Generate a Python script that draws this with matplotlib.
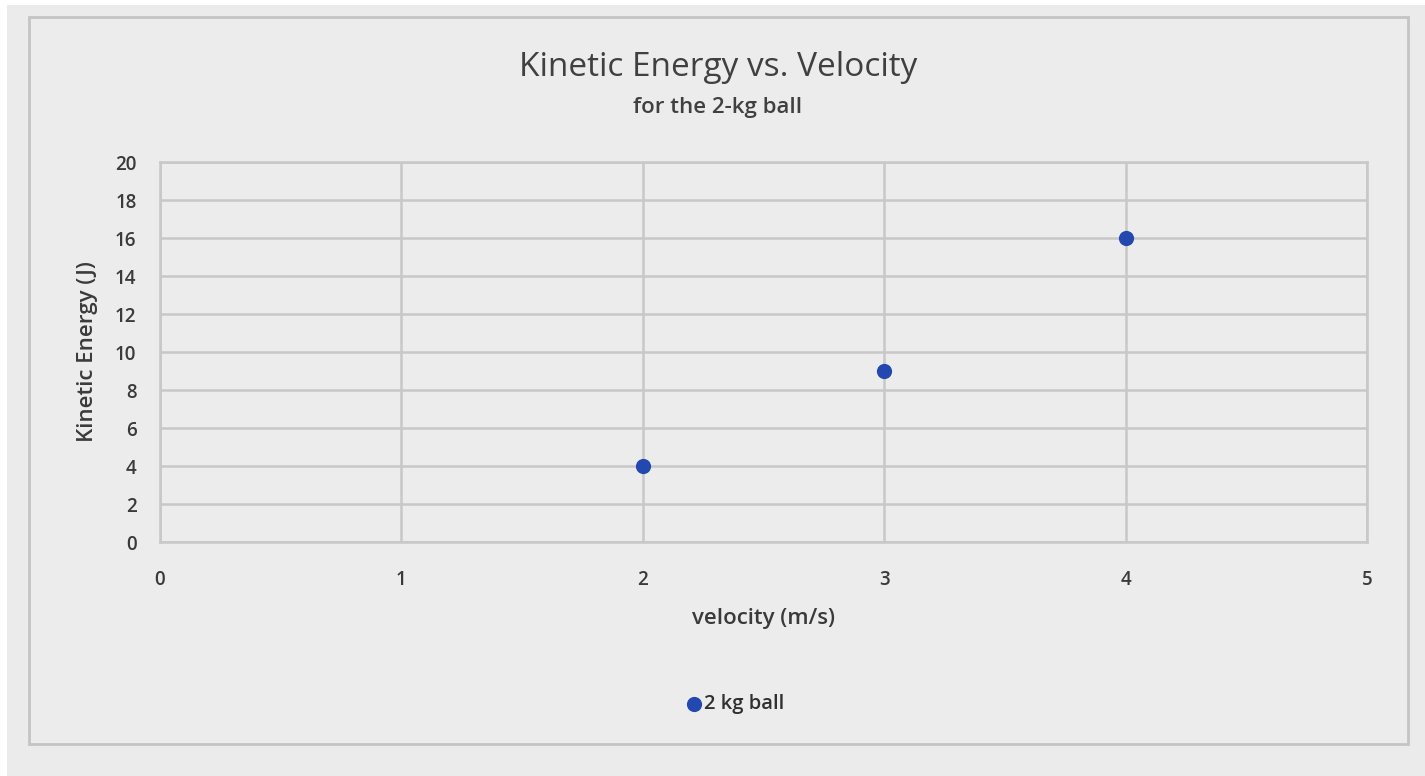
import matplotlib
matplotlib.use("Agg")
import matplotlib.pyplot as plt
from matplotlib.patches import Rectangle

velocity = [2, 3, 4]
energy = [4, 9, 16]
series_name = "2 kg ball"
x_ticks = [0, 1, 2, 3, 4, 5]
y_ticks = list(range(0, 21, 2))

plt.rcParams['font.family'] = ['Open Sans', 'DejaVu Sans']

W, H = 1425, 776
fig = plt.figure(figsize=(W/100, H/100), dpi=100)
fig.patch.set_facecolor('white')
bg = '#ebebeb'
fig.patches.append(Rectangle((7/W, 0), 1 - 7/W, 1 - 5/H, transform=fig.transFigure,
                             facecolor=bg, edgecolor='none', zorder=-2))
fig.patches.append(Rectangle((29/W, 1 - 744/H), (1408-29)/W, (744-17)/H, transform=fig.transFigure,
                             facecolor='#ececec', edgecolor='#c4c4c4', linewidth=2.0, zorder=-1))

left, right = 160/W, 1367/W
top, bottom = 1 - 162/H, 1 - 542/H
ax = fig.add_axes([left, bottom, right-left, top-bottom])
ax.set_facecolor('none')
color = '#2348b0'
ax.scatter(velocity, energy, s=120, color=color, zorder=3, label=series_name, linewidths=0)
ax.set_xlim(0, 5)
ax.set_ylim(0, 20)
ax.set_xticks(x_ticks)
ax.set_yticks(y_ticks)
ax.grid(True, color='#c8c8c8', linewidth=1.8)
ax.set_axisbelow(True)
for s in ax.spines.values():
    s.set_color('#c8c8c8')
    s.set_linewidth(1.8)
ax.tick_params(length=0, labelsize=13.5, colors='#3a3a3a')
ax.tick_params(axis='x', pad=20)
ax.tick_params(axis='y', pad=17)
for lab in ax.get_xticklabels() + ax.get_yticklabels():
    lab.set_fontweight('semibold')
ax.set_xlabel('velocity (m/s)', fontsize=16, color='#3a3a3a', labelpad=13, fontweight='semibold')
ax.set_ylabel('Kinetic Energy (J)', fontsize=16, color='#3a3a3a', labelpad=12, fontweight='semibold')

fig.text(718/W, 1 - 68/H, 'Kinetic Energy vs. Velocity', ha='center', va='center',
         fontsize=24, color='#404040')
fig.text(718/W, 1 - 107/H, 'for the 2-kg ball', ha='center', va='center',
         fontsize=16, color='#404040', fontweight='semibold')

leg = fig.legend(loc='center', bbox_to_anchor=(733/W, 1 - 704/H), frameon=False,
                 fontsize=14.5, handletextpad=-0.1, handlelength=1.2, markerscale=1.0)
for t in leg.get_texts():
    t.set_color('#303030')
    t.set_fontweight('semibold')

fig.savefig('out.png', dpi=100)
